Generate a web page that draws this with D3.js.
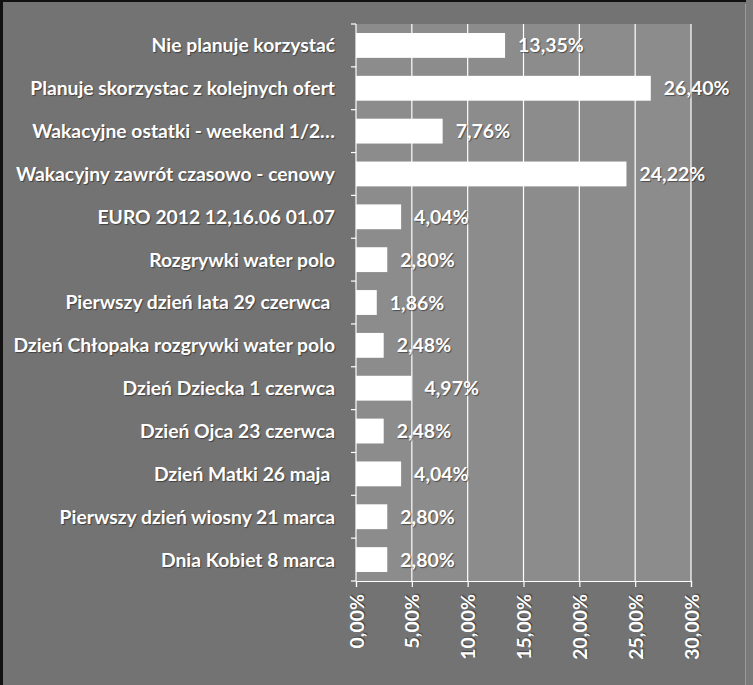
<!DOCTYPE html>
<html><head><meta charset="utf-8">
<script src="https://cdn.jsdelivr.net/npm/d3@7"></script>
<style>
html,body{margin:0;padding:0;background:#737373;}
svg{display:block;}
text{font-family:Lato, "Open Sans", sans-serif;font-weight:bold;fill:#fff;}
.sh{text-shadow:1px 1px 1px rgba(0,0,0,0.45);}
</style></head>
<body>
<script>
const categories = [
  "Nie planuje korzystać",
  "Planuje skorzystac z kolejnych ofert",
  "Wakacyjne ostatki - weekend 1/2…",
  "Wakacyjny zawrót czasowo - cenowy",
  "EURO 2012 12,16.06 01.07",
  "Rozgrywki water polo",
  "Pierwszy dzień lata 29 czerwca ",
  "Dzień Chłopaka rozgrywki water polo",
  "Dzień Dziecka 1 czerwca",
  "Dzień Ojca 23 czerwca",
  "Dzień Matki 26 maja ",
  "Pierwszy dzień wiosny 21 marca",
  "Dnia Kobiet 8 marca"
];
const values = [13.35, 26.40, 7.76, 24.22, 4.04, 2.80, 1.86, 2.48, 4.97, 2.48, 4.04, 2.80, 2.80];
const xTicks = [0, 5, 10, 15, 20, 25, 30];

const W = 753, H = 685;
const m = {left: 356, right: 62, top: 24, bottom: 104};
const svg = d3.select("body").append("svg").attr("width", W).attr("height", H);

svg.append("rect").attr("width", W).attr("height", H).attr("fill", "#737373");
// frame borders
svg.append("rect").attr("x",0).attr("y",0).attr("width",3).attr("height",H).attr("fill","#111");
svg.append("rect").attr("x",0).attr("y",0).attr("width",W).attr("height",2).attr("fill","#111");
svg.append("rect").attr("x",745).attr("y",4).attr("width",1).attr("height",H).attr("fill","#9a9a9a");
svg.append("rect").attr("x",746).attr("y",0).attr("width",7).attr("height",H).attr("fill","#7a7a7a");

const x = d3.scaleLinear().domain([0, 30]).range([m.left, W - m.right]);
const y = d3.scaleBand().domain(categories).range([m.top, H - m.bottom]).paddingInner(0.42).paddingOuter(0.21);

// plot area
svg.append("rect").attr("x", x(0)).attr("y", m.top).attr("width", x(30) - x(0)).attr("height", (H - m.bottom) - m.top).attr("fill", "#8c8c8c");

// gridlines
svg.append("g").selectAll("line").data(xTicks.slice(1)).join("line")
  .attr("x1", d => x(d)).attr("x2", d => x(d))
  .attr("y1", m.top).attr("y2", H - m.bottom)
  .attr("stroke", "#fff").attr("stroke-width", 1.2);

// bars
svg.append("g").selectAll("rect").data(values).join("rect")
  .attr("x", x(0)).attr("y", (d, i) => y(categories[i]))
  .attr("width", d => x(d) - x(0)).attr("height", y.bandwidth())
  .attr("fill", "#fff");

// value labels
svg.append("g").selectAll("text").data(values).join("text")
  .attr("class", "sh")
  .attr("x", d => x(d) + 13).attr("y", (d, i) => y(categories[i]) + y.bandwidth() / 2)
  .attr("dy", "0.36em").attr("font-size", 19.5)
  .text(d => d.toFixed(2).replace(".", ",") + "%");

// y axis
const step = y.step();
const bounds = d3.range(categories.length + 1).map(i => m.top + i * step);
const ya = svg.append("g");
ya.append("line").attr("x1", x(0)).attr("x2", x(0)).attr("y1", m.top).attr("y2", H - m.bottom).attr("stroke", "#fff").attr("stroke-width", 1.2);
ya.selectAll("line.t").data(bounds).join("line").attr("class","t")
  .attr("x1", x(0) - 5).attr("x2", x(0)).attr("y1", d => d).attr("y2", d => d)
  .attr("stroke", "#fff").attr("stroke-width", 1.2);
ya.selectAll("text").data(categories).join("text")
  .attr("class", "sh")
  .attr("x", 335).attr("y", d => y(d) + y.bandwidth() / 2)
  .attr("dy", "0.36em").attr("text-anchor", "end").attr("font-size", 19.3)
  .style("white-space", "pre")
  .text(d => d);

// x axis
const xa = svg.append("g").attr("transform", `translate(0,${H - m.bottom})`)
  .call(d3.axisBottom(x).tickValues(xTicks).tickSize(6).tickPadding(6).tickFormat(d => d.toFixed(2).replace(".", ",") + "%"));
xa.select(".domain").attr("stroke", "#fff").attr("stroke-width", 1.2);
xa.selectAll(".tick line").attr("stroke", "#fff").attr("stroke-width", 1.2);
xa.selectAll(".tick text")
  .attr("class", "sh")
  .attr("fill", "#fff").attr("font-size", 19.5)
  .attr("font-family", "Lato, 'Open Sans', sans-serif").attr("font-weight", "bold")
  .attr("transform", "rotate(-90)")
  .attr("text-anchor", "end").attr("x", -13).attr("y", 0).attr("dy", "0.36em");
</script>
</body></html>
